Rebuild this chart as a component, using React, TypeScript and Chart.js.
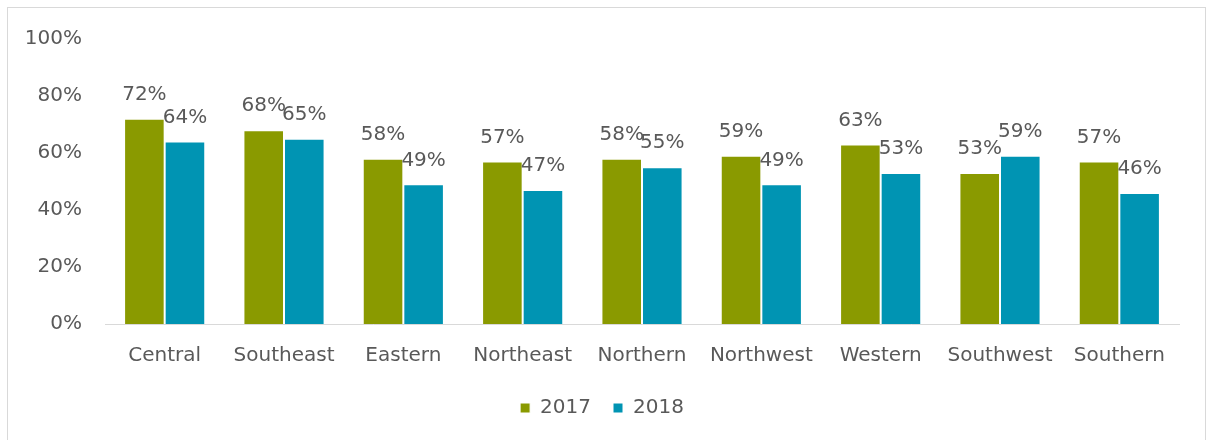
import React, { useEffect, useRef } from "react";
import { Chart, registerables } from "chart.js";

Chart.register(...registerables);

const categories = ["Central", "Southeast", "Eastern", "Northeast", "Northern", "Northwest", "Western", "Southwest", "Southern"];
const values2017 = [72, 68, 58, 57, 58, 59, 63, 53, 57];
const values2018 = [64, 65, 49, 47, 55, 49, 53, 59, 46];
const yTicks = [0, 20, 40, 60, 80, 100];

const FONT = "'DejaVu Sans', sans-serif";
const TEXT = "#595959";

const labelPlugin = {
  id: "barLabels",
  afterDatasetsDraw(chart: any) {
    const ctx = chart.ctx;
    ctx.save();
    ctx.font = `20px ${FONT}`;
    ctx.fillStyle = TEXT;
    ctx.textAlign = "center";
    ctx.textBaseline = "middle";
    chart.data.datasets.forEach((ds: any, i: number) => {
      const meta = chart.getDatasetMeta(i);
      meta.data.forEach((bar: any, j: number) => {
        ctx.fillText(`${ds.data[j]}%`, bar.x, bar.y - 24);
      });
    });
    ctx.restore();
  },
};

export default function App() {
  const ref = useRef<HTMLCanvasElement>(null);
  useEffect(() => {
    document.body.style.margin = "0";
    const chart = new Chart(ref.current!, {
      type: "bar",
      data: {
        labels: categories,
        datasets: [
          { label: "2017", data: values2017, backgroundColor: "#8A9A00", borderColor: "#ffffff", borderWidth: 1 },
          { label: "2018", data: values2018, backgroundColor: "#0094B3", borderColor: "#ffffff", borderWidth: 1 },
        ],
      },
      options: {
        animation: false,
        responsive: false,
        maintainAspectRatio: false,
        layout: { padding: { left: 25, right: 28, top: 39, bottom: 12 } },
        datasets: { bar: { barPercentage: 1, categoryPercentage: 0.68 } },
        scales: {
          x: {
            grid: { display: false, drawTicks: false },
            border: { display: true, color: "#D9D9D9", width: 1 },
            ticks: { color: TEXT, font: { family: FONT, size: 20 }, padding: 20 },
            afterFit: (s: any) => { s.height = 52; },
          },
          y: {
            min: 0,
            max: 100,
            afterBuildTicks: (s: any) => { s.ticks = yTicks.map((v) => ({ value: v })); },
            grid: { display: false, drawTicks: false },
            border: { display: false },
            ticks: { color: TEXT, font: { family: FONT, size: 20 }, padding: 23, callback: (v: any) => `${v}%` },
            afterFit: (s: any) => { s.width = 80; },
          },
        },
        plugins: {
          legend: {
            position: "bottom",
            labels: { color: TEXT, font: { family: FONT, size: 20 }, boxWidth: 10, boxHeight: 10, padding: 22 },
          },
          tooltip: { enabled: false },
        },
      },
      plugins: [labelPlugin],
    });
    return () => chart.destroy();
  }, []);
  return (
    <div style={{ position: "relative", width: 1207, height: 440, overflow: "hidden", background: "#fff" }}>
      <div style={{ position: "absolute", left: 7, top: 7, width: 1199, height: 450, border: "1px solid #D9D9D9", boxSizing: "border-box" }} />
      <canvas ref={ref} width={1207} height={440} style={{ position: "absolute", left: 0, top: 0, display: "block" }} />
    </div>
  );
}
